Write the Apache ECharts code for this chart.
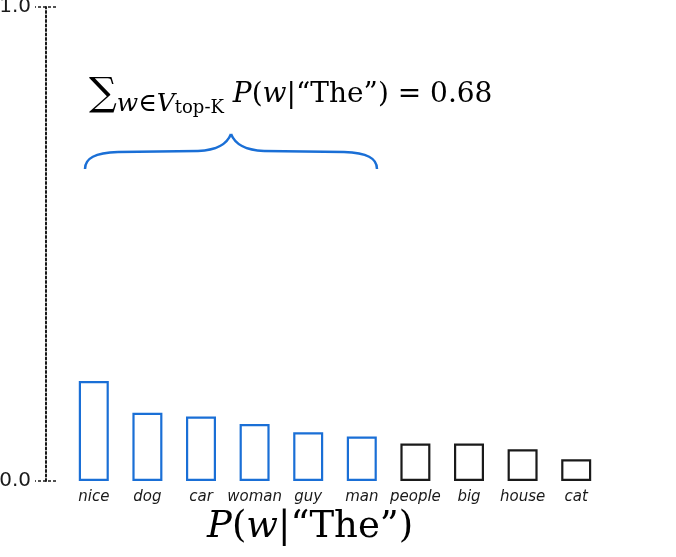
<!DOCTYPE html>
<html>
<head>
<meta charset="utf-8">
<script src="https://cdn.jsdelivr.net/npm/echarts@6/dist/echarts.min.js"></script>
<style>
  html, body { margin: 0; padding: 0; background: #fff; }
  #main { width: 676px; height: 557px; }
</style>
</head>
<body>
<div id="main"></div>
<script>
// words and their probabilities
const words = ['nice', 'dog', 'car', 'woman', 'guy', 'man', 'people', 'big', 'house', 'cat'];
const probs = [0.211, 0.144, 0.136, 0.120, 0.103, 0.094, 0.079, 0.079, 0.067, 0.046];
const topK = 6;
const yTicks = [0, 1];

const blue = '#1a6fd6';
const dark = '#1a1a1a';

const chart = echarts.init(document.getElementById('main'));

// top-K bars in blue, the rest in black
let barData = probs.map(function (v, i) {
  return {
    value: v,
    itemStyle: {
      color: 'rgba(255,255,255,0)',
      borderColor: i < topK ? blue : dark,
      borderWidth: 2.2
    }
  };
});

const serif = '"DejaVu Serif", "Liberation Serif", serif';

// curly brace pieces (annotation, not data)
const braceStyle = { fill: null, stroke: blue, lineWidth: 2.5 };
function curve (x1, y1, cx1, cy1, cx2, cy2, x2, y2) {
  return {
    type: 'bezierCurve',
    shape: { x1: x1, y1: y1, cpx1: cx1, cpy1: cy1, cpx2: cx2, cpy2: cy2, x2: x2, y2: y2 },
    style: braceStyle
  };
}
let brace = [
  curve(85, 169, 85, 158, 95, 153, 118, 152),
  curve(118, 152, 150, 151.5, 180, 151, 198, 151),
  curve(198, 151, 218, 150, 227, 144, 231, 134),
  curve(231, 134, 235, 144, 244, 150, 264, 151),
  curve(264, 151, 282, 151, 312, 151.5, 344, 152),
  curve(344, 152, 367, 153, 377, 158, 377, 169)
];

let option = {
  animation: false,
  grid: { left: 67, right: 73, top: 7, bottom: 76, outerBoundsMode: 'none', containLabel: false },
  xAxis: {
    type: 'category',
    data: words,
    axisLine: { show: false },
    axisTick: { show: false },
    axisLabel: {
      interval: 0,
      margin: 9,
      color: dark,
      fontSize: 15,
      fontStyle: 'italic',
      fontFamily: '"DejaVu Sans", sans-serif'
    }
  },
  yAxis: [{
    type: 'value',
    min: yTicks[0],
    max: yTicks[1],
    interval: 1,
    offset: 21,
    splitLine: { show: false },
    axisLine: { show: true, lineStyle: { color: dark, width: 2, type: [2, 2.5] } },
    axisTick: { show: false },
    axisLabel: {
      margin: 15,
      color: dark,
      fontSize: 20,
      fontFamily: '"DejaVu Sans", sans-serif',
      formatter: function (v) { return v.toFixed(1); }
    }
  }, {
    // second axis only to draw the dashed ticks across the axis line
    type: 'value',
    min: yTicks[0],
    max: yTicks[1],
    interval: 1,
    offset: 11,
    position: 'left',
    splitLine: { show: false },
    axisLine: { show: false },
    axisLabel: { show: false },
    axisTick: { show: true, length: 21, lineStyle: { color: dark, width: 1.5, type: [3, 2] } }
  }],
  series: [{
    type: 'bar',
    data: barData,
    barWidth: 30,
    silent: true
  }],
  graphic: brace.concat([{
    type: 'text',
    left: 89,
    top: 75,
    style: {
      rich: {
        sum: { fontSize: 39, fontFamily: serif, color: dark },
        sub: { fontSize: 25, fontStyle: 'italic', fontFamily: serif, color: dark, padding: [19, 0, 0, 0] },
        subsub: { fontSize: 18, fontFamily: serif, color: dark, padding: [28, 0, 0, 0] },
        it: { fontSize: 28, fontStyle: 'italic', fontFamily: serif, color: dark },
        rm: { fontSize: 28, fontFamily: serif, color: dark }
      },
      text: '{sum|∑}{sub|w∈V}{subsub|top-K}{rm| }{it|P}{rm|(}{it|w}{rm||“The”) = 0.68}'
    }
  }, {
    type: 'text',
    left: 207,
    top: 509,
    style: {
      rich: {
        it: { fontSize: 37, fontStyle: 'italic', fontFamily: serif, color: dark },
        rm: { fontSize: 37, fontFamily: serif, color: dark }
      },
      text: '{it|P}{rm|(}{it|w}{rm||“The”)}'
    }
  }])
};

chart.setOption(option);
</script>
</body>
</html>
